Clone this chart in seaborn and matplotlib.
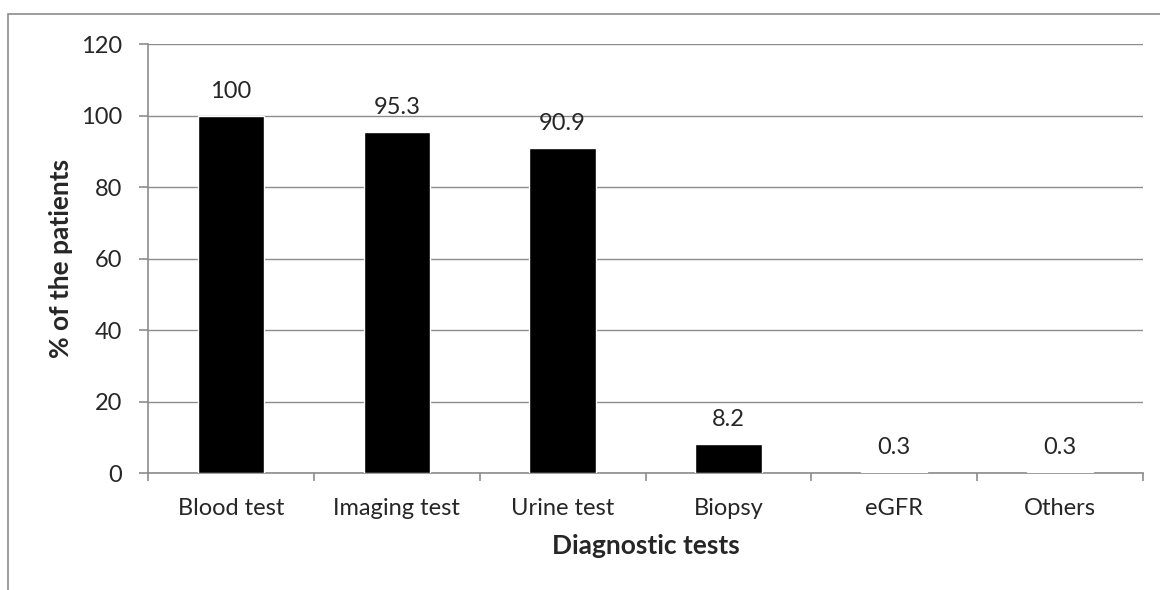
import matplotlib
matplotlib.use("Agg")
import matplotlib.pyplot as plt
import numpy as np
import pandas as pd
import seaborn as sns
from matplotlib.patches import Rectangle

categories = ["Blood test", "Imaging test", "Urine test", "Biopsy", "eGFR", "Others"]
percent = [100, 95.3, 90.9, 8.2, 0.3, 0.3]
value_labels = ["100", "95.3", "90.9", "8.2", "0.3", "0.3"]
y_ticks = [0, 20, 40, 60, 80, 100, 120]

df = pd.DataFrame({"test": categories, "pct": percent})

sns.set_theme(style="white")
plt.rcParams["font.family"] = ["Lato", "DejaVu Sans"]

fig = plt.figure(figsize=(11.6, 5.9), dpi=100)
ax = fig.add_axes([0.1276, 0.1983, 0.8578, 0.7271])

# outer chart frame (clipped at right and bottom like the source)
fig.patches.append(Rectangle((8 / 1160, -0.1), 1.2, 1 - 14 / 590 + 0.1,
                             transform=fig.transFigure, fill=False,
                             edgecolor="#8c8c8c", linewidth=1.2))

sns.barplot(ax=ax, data=df, x="test", y="pct", color="black", width=0.4,
            saturation=1, zorder=3)

ax.set_ylim(0, 120)
ax.set_xlim(-0.5, 5.5)
ax.set_yticks(y_ticks)
ax.yaxis.grid(True, color="#8c8c8c", linewidth=1.0, zorder=0)
ax.xaxis.grid(False)

for s in ["top", "right"]:
    ax.spines[s].set_visible(False)
for s in ["left", "bottom"]:
    ax.spines[s].set_color("#8c8c8c")
    ax.spines[s].set_linewidth(1.2)

ax.set_xticks(np.arange(-0.5, 6, 1), minor=True)
ax.tick_params(axis="x", which="major", length=0, labelsize=17, pad=18)
ax.tick_params(axis="x", which="minor", length=6, color="#8c8c8c", width=1.2,
               direction="out", bottom=True)
ax.tick_params(axis="y", length=6.5, color="#8c8c8c", width=1.2, direction="out",
               left=True, labelsize=17, pad=12)

ax.bar_label(ax.containers[0], labels=value_labels, padding=10, fontsize=17)

ax.set_xlabel("Diagnostic tests", fontsize=19, fontweight="bold", labelpad=11)
ax.set_ylabel("% of the patients", fontsize=19, fontweight="bold", labelpad=6)

fig.savefig("out.png", dpi=100)
